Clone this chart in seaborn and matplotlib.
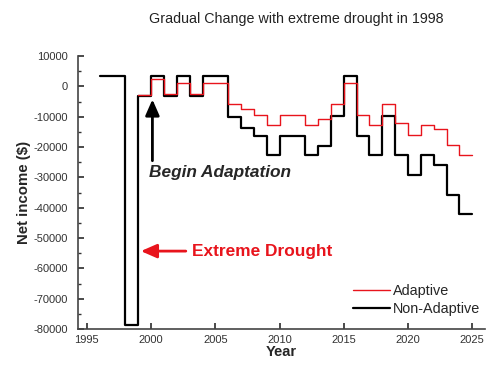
import numpy as np
import pandas as pd
import matplotlib
matplotlib.use("Agg")
import matplotlib.pyplot as plt
import seaborn as sns

sns.set_theme(style="ticks")
plt.rcParams["font.family"] = ["Liberation Sans", "DejaVu Sans"]
plt.rcParams["axes.unicode_minus"] = False

# step values, each held from its year until the next one
years_non = [1996, 1997, 1998, 1999, 2000, 2001, 2002, 2003, 2004, 2005,
             2006, 2007, 2008, 2009, 2010, 2011, 2012, 2013, 2014, 2015,
             2016, 2017, 2018, 2019, 2020, 2021, 2022, 2023, 2024, 2025]
non_adaptive = [3300, 3300, -78700, -3100, 3300, -3100, 3300, -3100, 3300, 3300,
                -10000, -13800, -16300, -22700, -16300, -16300, -22700, -19600, -9700, 3500,
                -16300, -22700, -9700, -22700, -29300, -22700, -26000, -35800, -42100, -42100]

years_ad = [1999, 2000, 2001, 2002, 2003, 2004, 2005,
            2006, 2007, 2008, 2009, 2010, 2011, 2012, 2013, 2014, 2015,
            2016, 2017, 2018, 2019, 2020, 2021, 2022, 2023, 2024, 2025]
adaptive = [-2700, 2400, -2500, 1200, -2500, 1200, 1200,
            -5900, -7500, -9500, -12800, -9500, -9500, -12800, -10800, -5800, 1100,
            -9500, -12800, -5800, -12000, -16000, -12800, -14100, -19400, -22700, -22700]

df = pd.concat([
    pd.DataFrame({"Year": years_ad, "Net": adaptive, "Strategy": "Adaptive"}),
    pd.DataFrame({"Year": years_non, "Net": non_adaptive, "Strategy": "Non-Adaptive"}),
])

fig = plt.figure(figsize=(4.9, 3.71), dpi=100)
ax = fig.add_axes([0.159, 0.113, 0.831, 0.736])

sns.lineplot(data=df[df.Strategy == "Non-Adaptive"], x="Year", y="Net",
             color="black", linewidth=1.6, drawstyle="steps-post",
             label="Non-Adaptive", ax=ax, zorder=2)
sns.lineplot(data=df[df.Strategy == "Adaptive"], x="Year", y="Net",
             color="#e8141c", linewidth=1.0, drawstyle="steps-post",
             label="Adaptive", ax=ax, zorder=3)

ax.set_xlim(1994.3, 2026)
ax.set_ylim(-80000, 10000)
ax.set_xticks(range(1995, 2026, 5))
ax.set_yticks(range(-80000, 10001, 10000))
ax.set_yticks(range(-75000, 10000, 10000), minor=True)
ax.tick_params(axis="both", which="both", direction="in", labelsize=8, colors="#333333")
ax.tick_params(which="major", length=4)
ax.tick_params(which="minor", length=2.5)
ax.tick_params(axis="y", pad=7)
ax.tick_params(axis="x", pad=4)
for s in ["top", "right"]:
    ax.spines[s].set_visible(False)
for s in ["left", "bottom"]:
    ax.spines[s].set_color("#444444")
    ax.spines[s].set_linewidth(1.2)

ax.set_xlabel("Year", fontsize=10.5, fontweight="bold", labelpad=0)
ax.set_ylabel("Net income ($)", fontsize=10.8, fontweight="bold", labelpad=2)

fig.text(0.604, 0.948, "Gradual Change with extreme drought in 1998",
         ha="center", va="center", fontsize=10.3, color="#222222")

ax.annotate("", xy=(2000.1, -4300), xytext=(2000.1, -24500),
            arrowprops=dict(arrowstyle="-|>,head_length=0.8,head_width=0.35",
                            color="black", lw=2, shrinkA=0, shrinkB=0))
ax.text(1999.8, -28300, "Begin Adaptation", fontsize=12.4, fontweight="bold",
        style="italic", ha="left", va="center")

ax.annotate("", xy=(1999.2, -54300), xytext=(2002.7, -54300),
            arrowprops=dict(arrowstyle="-|>,head_length=0.8,head_width=0.35",
                            color="#e8141c", lw=2, shrinkA=0, shrinkB=0))
ax.text(2003.2, -54300, "Extreme Drought", fontsize=12.4, fontweight="bold",
        color="#e8141c", ha="left", va="center")

handles, labels = ax.get_legend_handles_labels()
order = [labels.index("Adaptive"), labels.index("Non-Adaptive")]
ax.legend([handles[i] for i in order], [labels[i] for i in order],
          loc="lower right", bbox_to_anchor=(1.02, 0.0), frameon=False,
          fontsize=10.4, handlelength=2.6, handletextpad=0.2, labelspacing=0.25)

fig.savefig("out.png", dpi=100)
